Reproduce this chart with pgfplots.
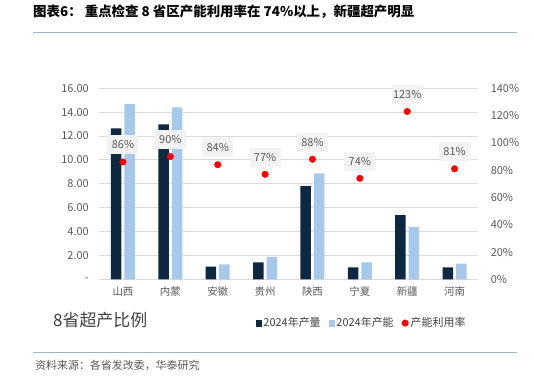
\documentclass[border=0pt]{standalone}
\usepackage{pgfplots}
\pgfplotsset{compat=1.18}
\usepackage{fontspec}
\setmainfont{Noto Sans CJK SC}
\definecolor{dark}{HTML}{0E2841}
\definecolor{light}{HTML}{A6C8EA}
\definecolor{tickgray}{HTML}{595959}
\definecolor{gridgray}{HTML}{D9D9D9}
\definecolor{labelbg}{HTML}{F2F2F2}
\definecolor{rulecol}{HTML}{9FB3C8}
\definecolor{ptred}{HTML}{FF0000}
\begin{document}
\begin{tikzpicture}[x=1bp,y=1bp]
\path (0,0) rectangle (534,378);
\node[anchor=west, inner sep=0, font=\fontsize{13.5}{15}\selectfont\bfseries] at (33,366) {图表6：\ 重点检查 8 省区产能利用率在 74\%以上，新疆超产明显};
\draw[rulecol, line width=1bp] (33,345.7) -- (517,345.7);
\draw[rulecol, line width=1bp] (33,25.3) -- (517,25.3);
\node[anchor=west, inner sep=0, text=tickgray, font=\fontsize{11}{12}\selectfont] at (35,13) {资料来源：各省发改委，华泰研究};
\node[anchor=west, inner sep=0, text=black!75, font=\fontsize{17}{18}\selectfont] at (53,58) {8省超产比例};
\begin{axis}[
  at={(99.3bp,98.7bp)}, anchor=south west,
  scale only axis, width=379bp, height=191bp,
  xmin=-0.5, xmax=7.5, ymin=0, ymax=16,
  axis line style={draw=none},
  major tick length=0pt,
  ymajorgrids, grid style={gridgray, line width=0.9bp},
  ytick={0,2,...,16},
  yticklabels={-,2.00,4.00,6.00,8.00,10.00,12.00,14.00,16.00},
  yticklabel style={text=tickgray, font=\fontsize{11}{12}\selectfont, xshift=-7bp},
  xtick={0,...,7},
  xticklabels={山西,内蒙,安徽,贵州,陕西,宁夏,新疆,河南},
  xticklabel style={text=tickgray, font=\fontsize{10.5}{12}\selectfont, yshift=-4bp},
  ybar=3bp, bar width=10.5bp,
  /pgf/number format/assume math mode=true,
]
\addplot[fill=dark, draw=none] coordinates {(0,12.65) (1,12.98) (2,1.06) (3,1.42) (4,7.81) (5,1.0) (6,5.38) (7,1.0)};
\addplot[fill=light, draw=none] coordinates {(0,14.68) (1,14.4) (2,1.26) (3,1.88) (4,8.88) (5,1.42) (6,4.4) (7,1.31)};
\end{axis}
\begin{axis}[
  at={(99.3bp,98.7bp)}, anchor=south west,
  scale only axis, width=379bp, height=191bp,
  xmin=-0.5, xmax=7.5, ymin=0, ymax=140,
  axis x line=none,
  axis y line*=right, y axis line style={draw=none},
  major tick length=0pt,
  ytick={0,20,...,140},
  yticklabels={0\%,20\%,40\%,60\%,80\%,100\%,120\%,140\%},
  yticklabel style={text=tickgray, font=\fontsize{11}{12}\selectfont, xshift=9bp},
  /pgf/number format/assume math mode=true,
  legend style={draw=none, fill=none, at={(0.692,-0.229)}, anchor=center,
    font=\fontsize{11}{12}\selectfont, text=black!75,
    /tikz/every even column/.append style={column sep=6bp}},
  legend columns=3,
]
\addlegendimage{legend image code/.code={\fill[dark] (0bp,-2.7bp) rectangle (5.4bp,2.7bp);}}
\addlegendentry{2024年产量}
\addlegendimage{legend image code/.code={\fill[light] (0bp,-2.7bp) rectangle (5.4bp,2.7bp);}}
\addlegendentry{2024年产能}
\addplot[only marks, mark=*, mark size=3.3bp, color=ptred,
  nodes near coords, point meta=explicit symbolic,
  every node near coord/.append style={anchor=center, yshift=17bp, fill=labelbg, text=tickgray,
    font=\fontsize{11}{12}\selectfont, minimum width=31bp, minimum height=19bp, inner sep=0pt},
  legend image code/.code={\fill[ptred] (2.7bp,0bp) circle (3.3bp);}]
  coordinates {(0,86) [86\%] (1,90) [90\%] (2,84) [84\%] (3,77) [77\%] (4,88) [88\%] (5,74) [74\%] (6,123) [123\%] (7,81) [81\%]};
\addlegendentry{产能利用率}
\end{axis}
\end{tikzpicture}
\end{document}
